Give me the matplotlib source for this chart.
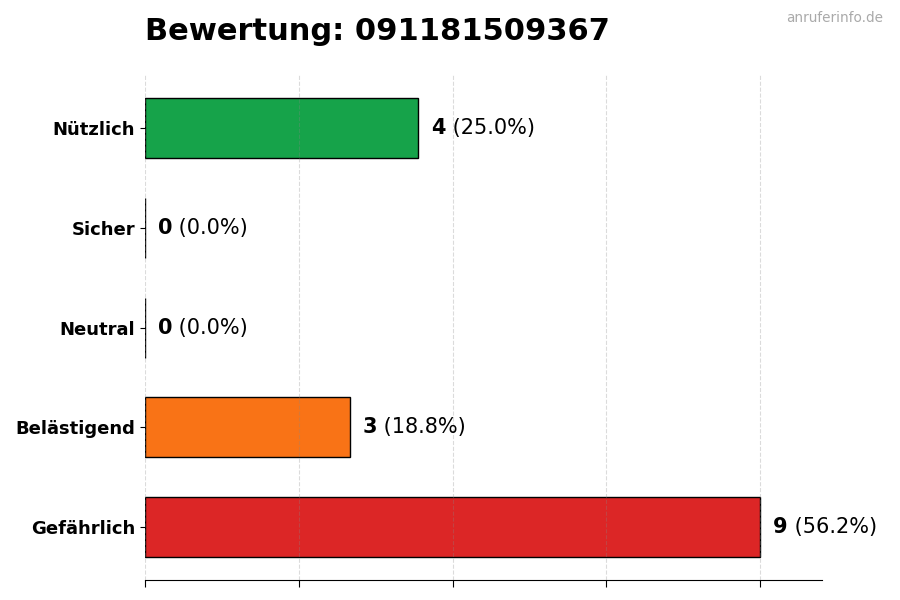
import matplotlib
matplotlib.use('Agg')
import matplotlib.pyplot as plt

# Daten
kategorien = ['Gefährlich', 'Belästigend', 'Neutral', 'Sicher', 'Nützlich']
anzahl = [9, 3, 0, 0, 4]
farben = ['#dc2626', '#f97316', '#9ca3af', '#3b82f6', '#16a34a']
nummer = '091181509367'

gesamt = sum(anzahl)
maxwert = max(anzahl)

fig = plt.figure(figsize=(9, 6), dpi=100)
ax = fig.add_axes([0.161, 0.033, 0.752, 0.842])

ax.barh(kategorien, anzahl, height=0.6, color=farben, edgecolor='black', linewidth=1)

ax.set_xlim(0, maxwert * 1.1)
ax.set_xticks([maxwert * f for f in (0, 0.25, 0.5, 0.75, 1.0)])
ax.set_xticklabels([])
ax.tick_params(axis='x', length=5)
ax.tick_params(axis='y', labelsize=13)
for lbl in ax.get_yticklabels():
    lbl.set_fontweight('bold')

ax.grid(axis='x', linestyle='--', color='#888888', alpha=0.3, linewidth=0.8)
ax.set_axisbelow(False)
for s in ('top', 'right', 'left'):
    ax.spines[s].set_visible(False)

# Werte an den Balken
versatz = maxwert * 0.021
for i, n in enumerate(anzahl):
    proz = n / gesamt * 100
    t1 = ax.text(n + versatz, i, str(n), va='center', ha='left',
                 fontsize=15, fontweight='bold')
    ax.annotate(f' ({proz:.1f}%)', xy=(1, 0), xycoords=t1,
                va='bottom', ha='left', fontsize=15)

fig.text(0.161, 0.933, f'Bewertung: {nummer}', fontsize=22,
         fontweight='bold', va='baseline', ha='left')
fig.text(0.981, 0.982, 'anruferinfo.de', fontsize=9.8, color='#aaaaaa',
         va='top', ha='right')

fig.savefig('out.png', dpi=100)
